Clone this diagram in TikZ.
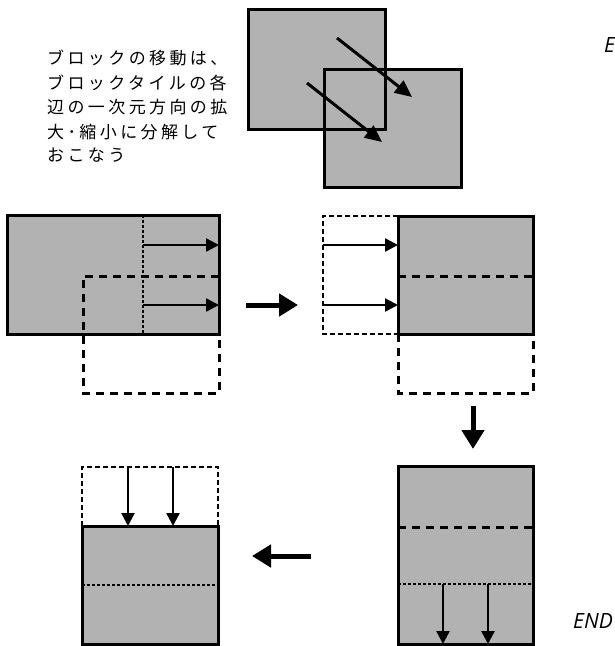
\documentclass[tikz,border=0pt]{standalone}
\usepackage{fontspec}
\newfontfamily\jp[LetterSpace=20]{Noto Sans CJK JP}
\newfontfamily\lab{Open Sans}
\usetikzlibrary{arrows.meta}
\definecolor{tone}{gray}{0.70}
\tikzset{
  solidbox/.style={draw, line width=3pt, fill=tone, inner sep=0pt, outer sep=0pt, anchor=north west},
  thickdash/.style={line width=3pt, dash pattern=on 8pt off 6pt},
  thindash/.style={line width=1.5pt, dash pattern=on 5pt off 3pt},
  dotline/.style={line width=1.4pt, dash pattern=on 3pt off 2pt},
  arr/.style={line width=2.4pt, -{Triangle[length=13pt,width=13pt]}},
  bigarr/.style={line width=5pt, -{Triangle[length=19pt,width=22pt]}},
  diagarr/.style={line width=3pt, -{Triangle[length=17pt,width=15pt]}},
  jtxt/.style={anchor=west, inner sep=0pt, font=\jp\fontsize{17pt}{20pt}\selectfont},
  etxt/.style={anchor=west, inner sep=0pt, font=\lab\itshape\fontsize{21pt}{22pt}\selectfont}
}
\begin{document}
\begin{tikzpicture}[x=1pt,y=-1pt]
\useasboundingbox[fill=white] (0,0) rectangle (614,646);

% ---- text
\node[jtxt] (t1) at (47,58) {ブロックの移動は、};
\node[jtxt] (t2) at (47,83) {ブロックタイルの各};
\node[jtxt] (t3) at (47,107) {辺の一次元方向の拡};
\node[jtxt] (t4) at (47,132) {大･縮小に分解して};
\node[jtxt] (t5) at (47,155) {おこなう};
\node[etxt] (lblE) at (604,45) {E};
\node[etxt] (lblEnd) at (573,621) {END};

% ---- top: two overlapping squares
\fill[tone] (247,8) rectangle (384,128);
\fill[tone] (323,68) rectangle (460,186);
\node[draw, line width=3pt, minimum width=137pt, minimum height=120pt, inner sep=0pt, anchor=north west] (sqA) at (247,8) {};
\node[draw, line width=3pt, minimum width=137pt, minimum height=118pt, inner sep=0pt, anchor=north west] (sqB) at (323,68) {};
\coordinate (d1s) at (337,38);  \coordinate (d1e) at (412,97);
\coordinate (d2s) at (307,83);  \coordinate (d2e) at (382,142);
\draw[diagarr] (d1s) -- (d1e);
\draw[diagarr] (d2s) -- (d2e);

% ---- middle left panel
\node[solidbox, minimum width=212pt, minimum height=119pt] (mL) at (7,215) {};
\draw[dotline] (143,215) -- (143,334);
\coordinate (mLa1) at (143,245); \coordinate (mLa2) at (143,305);
\draw[arr] (mLa1) -- (mLa1 -| mL.east);
\draw[arr] (mLa2) -- (mLa2 -| mL.east);
\draw[thickdash] (219,276) -- (83,276) -- (83,393) -- (219,393) -- (219,334);

% big arrow right
\coordinate (b1s) at (246,305); \coordinate (b1e) at (298,305);
\draw[bigarr] (b1s) -- (b1e);

% ---- middle right panel
\draw[thindash] (398,216) -- (323,216) -- (323,334) -- (398,334);
\node[solidbox, minimum width=135pt, minimum height=118pt] (mR) at (398,216) {};
\draw[thickdash] (398,276) -- (533,276);
\coordinate (mRa1) at (323,245); \coordinate (mRa2) at (323,305);
\draw[arr] (mRa1) -- (mRa1 -| mR.west);
\draw[arr] (mRa2) -- (mRa2 -| mR.west);
\draw[thickdash] (398,334) -- (398,393) -- (533,393) -- (533,334);

% down arrow
\coordinate (b2s) at (473,406); \coordinate (b2e) at (473,449);
\draw[bigarr] (b2s) -- (b2e);

% ---- bottom right panel
\node[solidbox, minimum width=135pt, minimum height=178pt] (bR) at (398,466) {};
\draw[thickdash] (398,527) -- (533,527);
\draw[dotline] (398,584) -- (533,584);
\coordinate (bRa1) at (443,584); \coordinate (bRa2) at (488,584);
\draw[arr] (bRa1) -- (bRa1 |- bR.south);
\draw[arr] (bRa2) -- (bRa2 |- bR.south);

% left arrow
\coordinate (b3s) at (311,556); \coordinate (b3e) at (252,556);
\draw[bigarr] (b3s) -- (b3e);

% ---- bottom left panel
\draw[thindash] (82,526) -- (82,467) -- (218,467) -- (218,526);
\node[solidbox, minimum width=136pt, minimum height=118pt] (bL) at (82,526) {};
\draw[dotline] (82,585) -- (218,585);
\coordinate (bLa1) at (128,467); \coordinate (bLa2) at (173,467);
\draw[arr] (bLa1) -- (bLa1 |- bL.north);
\draw[arr] (bLa2) -- (bLa2 |- bL.north);
\end{tikzpicture}
\end{document}
